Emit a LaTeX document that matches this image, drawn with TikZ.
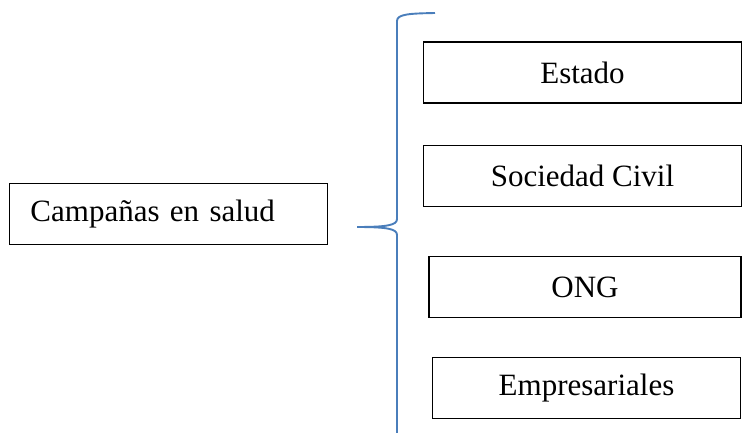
\documentclass[tikz,border=0pt]{standalone}
\usepackage{fontspec}
\setmainfont{Liberation Serif}
\definecolor{bracecol}{HTML}{4A7EBB}
\tikzset{
  itembox/.style={draw=black, line width=1.8pt, minimum height=61pt, inner sep=0pt, font=\fontsize{31}{37}\selectfont},
  bracestyle/.style={draw=bracecol, line width=1.9pt}
}
\begin{document}
\begin{tikzpicture}[x=1pt,y=-1pt]
\useasboundingbox (0,0) rectangle (742,433);
\node[itembox, minimum width=318pt, text width=276pt, inner xsep=21pt, align=left] (camp) at (168.5,214) {Campañas en salud};
\node[itembox, minimum width=318pt] (estado) at (582.5,72.5) {Estado};
\node[itembox, minimum width=318pt] (soc) at (582.5,176) {Sociedad Civil};
\node[itembox, minimum width=312pt] (ong) at (585,287) {ONG};
\node[itembox, minimum width=308pt] (emp) at (586.5,388) {Empresariales};
\coordinate (btop) at (435,13);
\coordinate (btip) at (357,227);
\coordinate (bbot) at (397,440);
\draw[bracestyle] (btop) .. controls (410,13.5) and (397,14) .. (397,21) -- (397,219) .. controls (397,225) and (388,227) .. (btip);
\draw[bracestyle] (btip) .. controls (388,227) and (397,229) .. (397,235) -- (bbot);
\end{tikzpicture}
\end{document}
